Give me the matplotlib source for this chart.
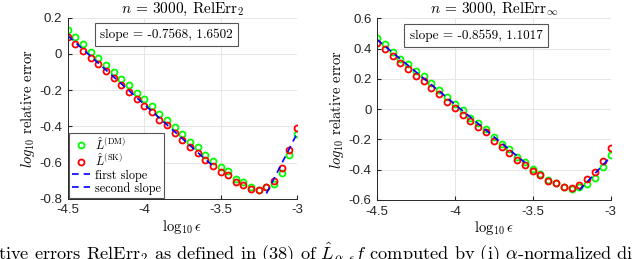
import numpy as np
import matplotlib
matplotlib.use("Agg")
import matplotlib.pyplot as plt

plt.rcParams['mathtext.fontset'] = 'cm'
plt.rcParams['axes.unicode_minus'] = False
plt.rcParams['font.family'] = ['Liberation Sans', 'DejaVu Sans']
SERIF = ['cmr10', 'DejaVu Serif']

# log10 epsilon
eps = np.round(np.arange(-4.5, -2.99, 0.05), 2)

# left panel: RelErr_2
err2_dm = [0.130, 0.092, 0.052, 0.011, -0.022, -0.060, -0.099, -0.137, -0.174, -0.214,
           -0.251, -0.287, -0.329, -0.362, -0.401, -0.441, -0.485, -0.514, -0.558, -0.591,
           -0.624, -0.644, -0.688, -0.708, -0.734, -0.749, -0.736, -0.716, -0.655, -0.560, -0.443]
err2_sk = [0.094, 0.055, 0.015, -0.025, -0.058, -0.097, -0.133, -0.174, -0.210, -0.251,
           -0.287, -0.322, -0.364, -0.395, -0.434, -0.474, -0.514, -0.547, -0.588, -0.617,
           -0.652, -0.668, -0.708, -0.725, -0.747, -0.752, -0.736, -0.701, -0.630, -0.531, -0.408]
slopes2 = [-0.7568, 1.6502]
icpt2 = [-3.3056, 4.5106]

# right panel: RelErr_inf
errinf_dm = [0.472, 0.428, 0.380, 0.331, 0.296, 0.252, 0.217, 0.171, 0.129, 0.078,
             0.036, -0.008, -0.056, -0.094, -0.129, -0.184, -0.230, -0.265, -0.316, -0.349,
             -0.393, -0.426, -0.470, -0.488, -0.512, -0.527, -0.516, -0.494, -0.455, -0.384, -0.300]
errinf_sk = [0.439, 0.395, 0.351, 0.303, 0.263, 0.221, 0.186, 0.140, 0.100, 0.047,
             0.008, -0.036, -0.080, -0.120, -0.153, -0.210, -0.252, -0.287, -0.336, -0.367,
             -0.406, -0.433, -0.477, -0.490, -0.512, -0.518, -0.501, -0.463, -0.415, -0.342, -0.254]
slopesinf = [-0.8559, 1.1017]
icptinf = [-3.391, 2.990]

# fit ranges (first, second)
fit_x = [[-4.5, -3.55], [-3.2, -3.0]]

fig = plt.figure(figsize=(6.4, 2.59), dpi=100)
ax1 = fig.add_axes([0.106, 0.232, 0.358, 0.700])
ax2 = fig.add_axes([0.589, 0.228, 0.365, 0.701])


def panel(ax, dm, sk, slopes, icpts, yticks, title, legend):
    ax.plot(eps, dm, 'o', mfc='none', mec=(0, 1, 0), ms=4.3, mew=1.3,
            label=r'$\hat{L}^{(\mathrm{DM})}$')
    ax.plot(eps, sk, 'o', mfc='none', mec=(1, 0, 0), ms=4.3, mew=1.3,
            label=r'$\hat{L}^{(\mathrm{SK})}$')
    names = ['first slope', 'second slope']
    for k in range(2):
        xs = np.array(fit_x[k])
        ax.plot(xs, slopes[k] * xs + icpts[k], '--', color=(0, 0, 1), lw=1.2,
                dashes=(4, 3), label=names[k])
    ax.set_xlim(-4.5, -3)
    ax.set_ylim(yticks[0], yticks[-1])
    ax.set_xticks([-4.5, -4, -3.5, -3])
    ax.set_xticklabels(['-4.5', '-4', '-3.5', '-3'])
    ax.set_yticks(yticks)
    ax.set_yticklabels(['%g' % v for v in yticks])
    ax.tick_params(direction='in', labelsize=9.5, length=3, color='#262626',
                   labelcolor='#262626', pad=4)
    ax.grid(True, color='#e6e6e6', lw=0.7)
    ax.set_axisbelow(True)
    for s in ['top', 'right']:
        ax.spines[s].set_visible(False)
    for s in ['left', 'bottom']:
        ax.spines[s].set_color('#262626')
        ax.spines[s].set_linewidth(0.7)
    ax.set_title(title, fontsize=11, pad=3, family=SERIF)
    ax.set_xlabel(r'$\log_{10}\epsilon$', fontsize=10.5, labelpad=1)
    ax.set_ylabel(r'$log_{10}$ relative error', fontsize=10.5, family=SERIF, labelpad=2)
    ax.text(0.14, 0.905, 'slope = %.4f, %.4f' % (slopes[0], slopes[1]),
            transform=ax.transAxes, fontsize=9.5, family=SERIF, va='center',
            bbox=dict(boxstyle='square,pad=0.4', fc='white', ec='#555555', lw=0.8))
    if legend:
        lg = ax.legend(loc='lower left', handlelength=1.5, handletextpad=0.4,
                       borderpad=0.25, labelspacing=0.02, borderaxespad=0.1,
                       fancybox=False, edgecolor='#555555', framealpha=1,
                       prop={'family': SERIF, 'size': 8.8})
        lg.get_frame().set_linewidth(0.8)


panel(ax1, err2_dm, err2_sk, slopes2, icpt2, [-0.8, -0.6, -0.4, -0.2, 0, 0.2],
      r'$n$ = 3000, RelErr$_2$', True)
panel(ax2, errinf_dm, errinf_sk, slopesinf, icptinf,
      [-0.6, -0.4, -0.2, 0, 0.2, 0.4, 0.6], r'$n$ = 3000, RelErr$_\infty$', False)

fig.text(-0.003, 0.0,
         r'tive errors RelErr$_2$ as defined in (38) of $\hat{L}_{\alpha,\epsilon}f$ computed by (i) $\alpha$-normalized di',
         fontsize=13.2, family=SERIF, va='baseline', ha='left')

fig.savefig('out.png', dpi=100)
